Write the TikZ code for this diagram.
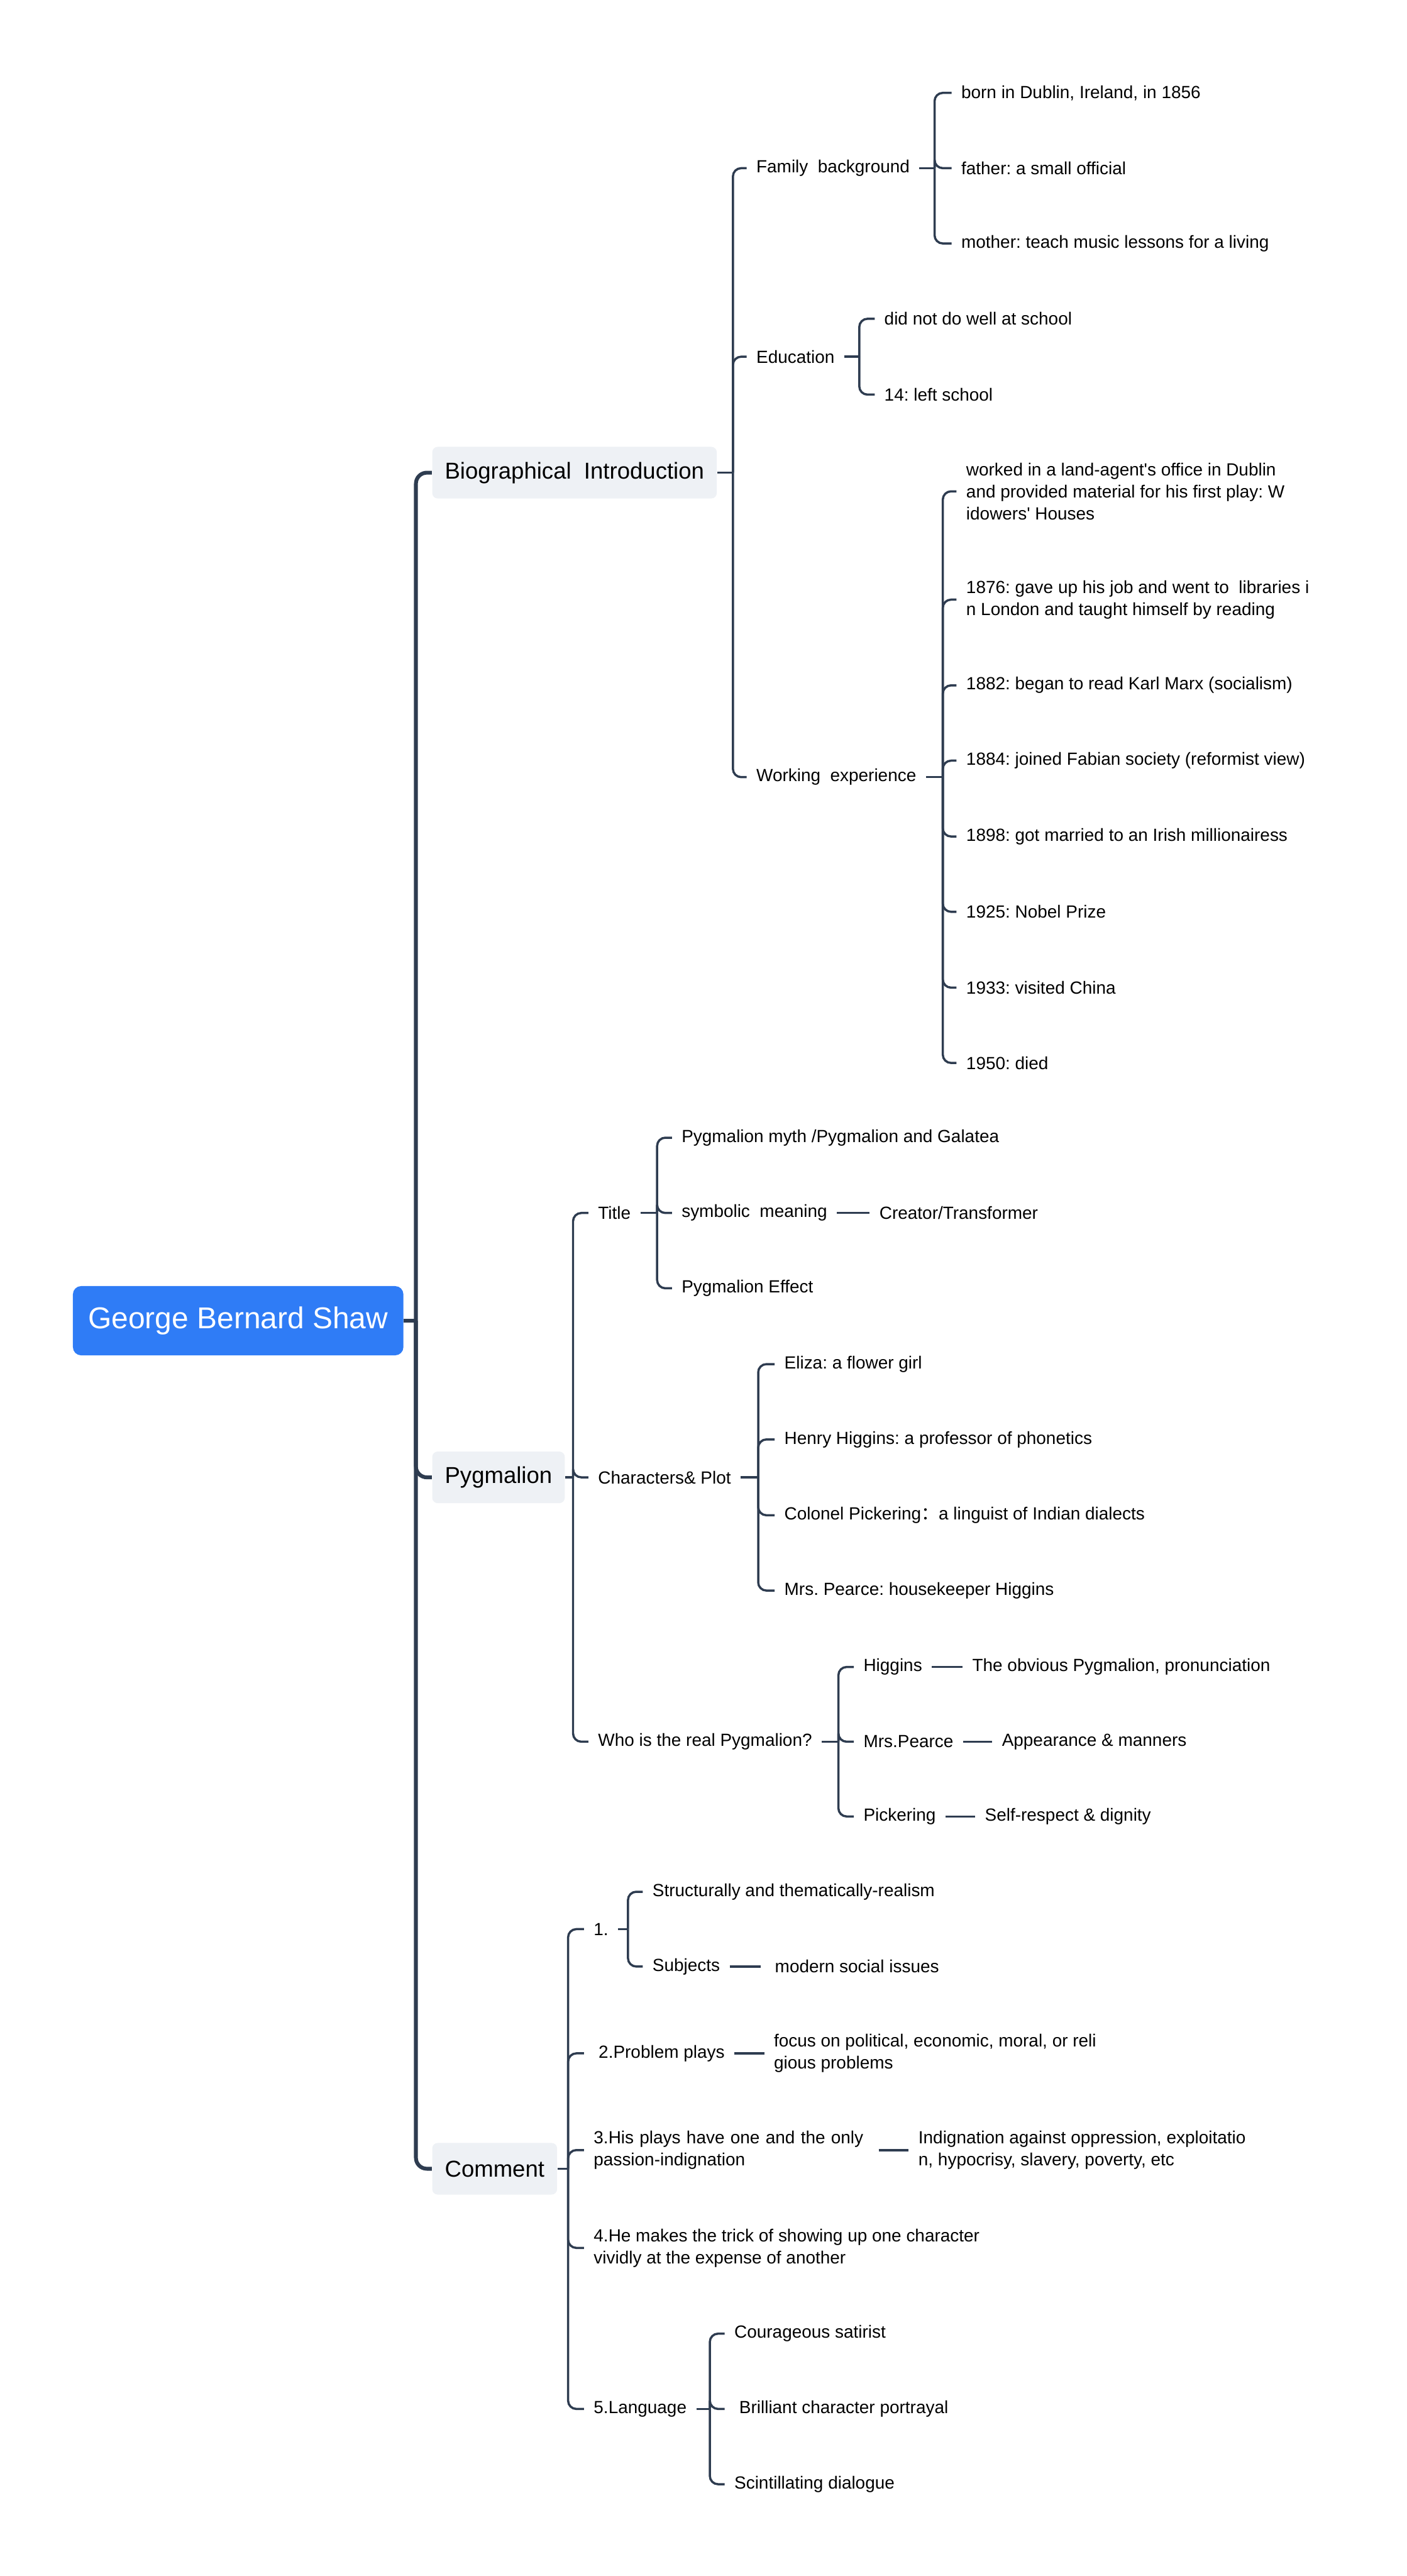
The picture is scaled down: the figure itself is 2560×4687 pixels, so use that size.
\documentclass[tikz,border=0pt]{standalone}
\usepackage{fontspec}
\setmainfont{Liberation Sans}
\newfontfamily\cjk{Noto Sans CJK SC}
\usepackage{xcolor}
\usepackage{tikz}
\definecolor{linecol}{HTML}{2E3C50}
\definecolor{rootblue}{HTML}{2F7CF6}
\definecolor{topicgray}{HTML}{EEF1F5}
\frenchspacing

\begin{document}
\begin{tikzpicture}[x=0.1mm,y=-0.1mm,
    rootbox/.style={anchor=west,fill=rootblue,text=white,rounded corners=1.5mm,
      minimum height=12.6mm,inner xsep=2.8mm,font=\fontsize{15.6}{18}\selectfont},
    topic/.style={anchor=west,fill=topicgray,rounded corners=1mm,
      minimum height=9.4mm,inner xsep=2.3mm,font=\fontsize{11.9}{14}\selectfont},
    leaf/.style={anchor=west,align=left,inner xsep=1.7mm,inner ysep=0.5mm,
      font=\fontsize{9.1}{11.4}\selectfont},
    trunk/.style={draw=linecol,line width=0.7mm,rounded corners=2mm},
    link/.style={draw=linecol,line width=0.4mm,rounded corners=1.5mm}]

            % Define the page
            \useasboundingbox (0,0) rectangle (2560,4687);

            % Define the root and the three main topics
            \node[rootbox] (gbs) at (132,2403) {George Bernard Shaw};
            \node[topic] (bio) at (786,860) {Biographical\ \ Introduction};
            \node[topic] (pyg) at (786,2688) {Pygmalion};
            \node[topic] (com) at (786,3946) {Comment};

            \coordinate (gbsBar) at (757,2403);
            \draw[trunk] (gbs.east) -- (gbsBar);
            \foreach \n in {bio,pyg,com} \draw[trunk] (gbsBar) |- (\n.west);

            % Biographical introduction
            \node[leaf] (fam) at (1359,306) {Family\ \ background};
            \node[leaf] (edu) at (1359,649) {Education};
            \node[leaf] (work) at (1359,1414) {Working\ \ experience};
            \coordinate (bioBar) at (1334,860);
            \draw[link] (bio.east) -- (bioBar);
            \foreach \n in {fam,edu,work} \draw[link] (bioBar) |- (\n.west);

            % Family background
            \node[leaf] (born) at (1732,169) {born in Dublin, Ireland, in 1856};
            \node[leaf] (father) at (1732,306) {father: a small official};
            \node[leaf] (mother) at (1732,443) {mother: teach music lessons for a living};
            \coordinate (famBar) at (1701,306);
            \draw[link] (fam.east) -- (famBar);
            \foreach \n in {born,father,mother} \draw[link] (famBar) |- (\n.west);

            % Education
            \node[leaf] (school) at (1592,580) {did not do well at school};
            \node[leaf] (left) at (1592,718) {14: left school};
            \coordinate (eduBar) at (1564,649);
            \draw[link] (edu.east) -- (eduBar);
            \foreach \n in {school,left} \draw[link] (eduBar) |- (\n.west);

            % Working experience
            \node[leaf] (w1) at (1741,894) {worked in a land-agent\textquotesingle s office in Dublin\\and provided material for his first play: W\\idowers\textquotesingle\ Houses};
            \node[leaf] (w2) at (1741,1091) {1876: gave up his job and went to\ \ libraries i\\n London and taught himself by reading};
            \node[leaf] (w3) at (1741,1247) {1882: began to read Karl Marx (socialism)};
            \node[leaf] (w4) at (1741,1384) {1884: joined Fabian society (reformist view)};
            \node[leaf] (w5) at (1741,1522) {1898: got married to an Irish millionairess};
            \node[leaf] (w6) at (1741,1659) {1925: Nobel Prize};
            \node[leaf] (w7) at (1741,1797) {1933: visited China};
            \node[leaf] (w8) at (1741,1934) {1950: died};
            \coordinate (workBar) at (1716,1414);
            \draw[link] (work.east) -- (workBar);
            \foreach \n in {w1,w2,w3,w4,w5,w6,w7,w8} \draw[link] (workBar) |- (\n.west);

            % Pygmalion
            \node[leaf] (title) at (1071,2207) {Title};
            \node[leaf] (chars) at (1071,2688) {Characters\& Plot};
            \node[leaf] (who) at (1071,3169) {Who is the real Pygmalion?};
            \coordinate (pygBar) at (1043,2688);
            \draw[link] (pyg.east) -- (pygBar);
            \foreach \n in {title,chars,who} \draw[link] (pygBar) |- (\n.west);

            % Title
            \node[leaf] (myth) at (1223,2070) {Pygmalion myth /Pygmalion and Galatea};
            \node[leaf] (sym) at (1223,2207) {symbolic\ \ meaning};
            \node[leaf] (effect) at (1223,2344) {Pygmalion Effect};
            \node[leaf] (creator) at (1583,2207) {Creator/Transformer};
            \coordinate (titleBar) at (1196,2207);
            \draw[link] (title.east) -- (titleBar);
            \foreach \n in {myth,sym,effect} \draw[link] (titleBar) |- (\n.west);
            \draw[link] (sym.east) -- (creator.west);

            % Characters & plot
            \node[leaf] (eliza) at (1410,2482) {Eliza: a flower girl};
            \node[leaf] (henry) at (1410,2619) {Henry Higgins: a professor of phonetics};
            \node[leaf] (colonel) at (1410,2757) {Colonel Pickering{\cjk ：}a linguist of Indian dialects};
            \node[leaf] (pearce) at (1410,2894) {Mrs. Pearce: housekeeper Higgins};
            \coordinate (charsBar) at (1380,2688);
            \draw[link] (chars.east) -- (charsBar);
            \foreach \n in {eliza,henry,colonel,pearce} \draw[link] (charsBar) |- (\n.west);

            % Who is the real Pygmalion
            \node[leaf] (higgins) at (1554,3033) {Higgins};
            \node[leaf] (mrsp) at (1554,3169) {Mrs.Pearce};
            \node[leaf] (pick) at (1554,3305) {Pickering};
            \node[leaf] (obvious) at (1752,3033) {The obvious Pygmalion, pronunciation};
            \node[leaf] (manners) at (1806,3169) {Appearance \& manners};
            \node[leaf] (dignity) at (1775,3305) {Self-respect \& dignity};
            \coordinate (whoBar) at (1526,3169);
            \draw[link] (who.east) -- (whoBar);
            \foreach \n in {higgins,mrsp,pick} \draw[link] (whoBar) |- (\n.west);
            \draw[link] (higgins.east) -- (obvious.west);
            \draw[link] (mrsp.east) -- (manners.west);
            \draw[link] (pick.east) -- (dignity.west);

            % Comment
            \node[leaf] (one) at (1063,3510) {1.};
            \node[leaf] (prob) at (1063,3736) {\ 2.Problem plays};
            \node[leaf,text width=50.1mm] (three) at (1063,3912) {3.His plays have one and the only\\passion-indignation};
            \node[leaf] (four) at (1063,4090) {4.He makes the trick of showing up one character\\vividly at the expense of another};
            \node[leaf] (lang) at (1063,4383) {5.Language};
            \coordinate (comBar) at (1034,3946);
            \draw[link] (com.east) -- (comBar);
            \foreach \n in {one,prob,three,four,lang} \draw[link] (comBar) |- (\n.west);

            % Point 1
            \node[leaf] (struct) at (1170,3442) {Structurally and thematically-realism};
            \node[leaf] (subj) at (1170,3578) {Subjects};
            \node[leaf] (modern) at (1384,3578) {\ modern social issues};
            \coordinate (oneBar) at (1143,3510);
            \draw[link] (one.east) -- (oneBar);
            \foreach \n in {struct,subj} \draw[link] (oneBar) |- (\n.west);
            \draw[link] (subj.east) -- (modern.west);

            % Points 2 and 3
            \node[leaf] (focus) at (1391,3736) {focus on political, economic, moral, or reli\\gious problems};
            \draw[link] (prob.east) -- (focus.west);
            \node[leaf] (indig) at (1654,3912) {Indignation against oppression, exploitatio\\n, hypocrisy, slavery, poverty, etc};
            \draw[link] (three.east) -- (indig.west);

            % Language
            \node[leaf] (cour) at (1319,4246) {Courageous satirist};
            \node[leaf] (brill) at (1319,4383) {\ Brilliant character portrayal};
            \node[leaf] (scint) at (1319,4520) {Scintillating dialogue};
            \coordinate (langBar) at (1292,4383);
            \draw[link] (lang.east) -- (langBar);
            \foreach \n in {cour,brill,scint} \draw[link] (langBar) |- (\n.west);

        \end{tikzpicture}
\end{document}
